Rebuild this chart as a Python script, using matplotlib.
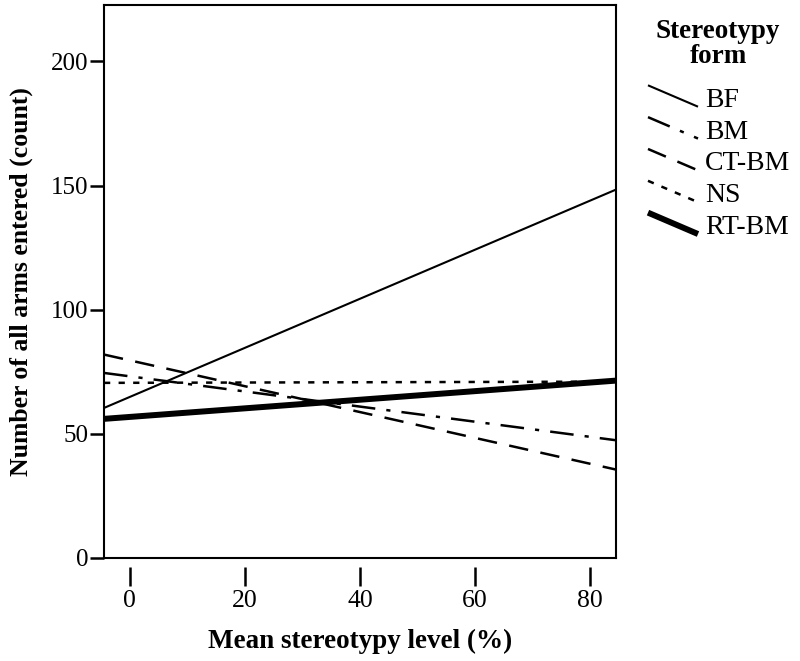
import matplotlib
matplotlib.use("Agg")
import matplotlib.pyplot as plt
from matplotlib.lines import Line2D
from matplotlib.legend_handler import HandlerLine2D

# fitted lines, values read at the left and right edge of the plot
x_ends = [-4.5, 84.4]
forms = ["BF", "BM", "CT-BM", "NS", "RT-BM"]
bf = [60.4, 148.3]
bm = [74.5, 47.4]
ct_bm = [81.9, 35.6]
ns = [70.5, 71.0]
rt_bm = [56.0, 71.4]

x_ticks = [0, 20, 40, 60, 80]
y_ticks = [0, 50, 100, 150, 200]

plt.rcParams['font.family'] = ['Liberation Serif', 'DejaVu Serif']
plt.rcParams['lines.scale_dashes'] = False


class SlantHandler(HandlerLine2D):
    # legend sample drawn as a falling diagonal line
    def create_artists(self, legend, orig_handle, xdescent, ydescent,
                       width, height, fontsize, trans):
        ln = Line2D([-xdescent, -xdescent + width],
                    [-ydescent + height * 1.1, -ydescent + height * 0.0])
        self.update_prop(ln, orig_handle, legend)
        ln.set_transform(trans)
        return [ln]


fig = plt.figure(figsize=(8, 6.61), dpi=100)
ax = fig.add_axes([0.13, 0.156, 0.6396, 0.8364])

h1, = ax.plot(x_ends, bf, color='black', linewidth=1.5, solid_capstyle='butt')
h2, = ax.plot(x_ends, bm, color='black', linewidth=1.8,
              linestyle=(0, (17, 8, 3, 8)), dash_capstyle='butt')
h3, = ax.plot(x_ends, ct_bm, color='black', linewidth=1.8,
              linestyle=(0, (14, 9)), dash_capstyle='butt')
h4, = ax.plot(x_ends, ns, color='black', linewidth=1.8,
              linestyle=(0, (4.5, 6)), dash_capstyle='butt')
h5, = ax.plot(x_ends, rt_bm, color='black', linewidth=4.3, solid_capstyle='butt')

ax.set_xlim(x_ends)
ax.set_ylim(0, 222.7)

for s in ax.spines.values():
    s.set_linewidth(1.5)

ax.set_yticks(y_ticks)
ax.tick_params(axis='y', direction='out', length=10, width=1.8, labelsize=18, pad=1)
ax.set_xticks([])

# x ticks sit a little below the frame
sec = ax.secondary_xaxis(-0.016)
sec.spines['bottom'].set_visible(False)
sec.set_xticks(x_ticks)
sec.tick_params(axis='x', direction='out', length=14, width=1.8, labelsize=18.5, pad=3)

sec.set_xlabel("Mean stereotypy level (%)", fontsize=19.5, fontweight='bold', labelpad=12)
ax.set_ylabel("Number of all arms entered (count)", fontsize=18.5, fontweight='bold', labelpad=13)

fig.text(0.8975, 0.972, "Stereotypy\nform", ha='center', va='top',
         fontsize=19.5, fontweight='bold', linespacing=1.0)

leg = fig.legend([h1, h2, h3, h4, h5], forms,
                 handler_map={Line2D: SlantHandler()},
                 loc='upper left', bbox_to_anchor=(0.81, 0.868),
                 frameon=False, fontsize=20, handlelength=1.8, handletextpad=0.25,
                 labelspacing=0.23, borderpad=0, borderaxespad=0)

fig.savefig("out.png", dpi=100)
